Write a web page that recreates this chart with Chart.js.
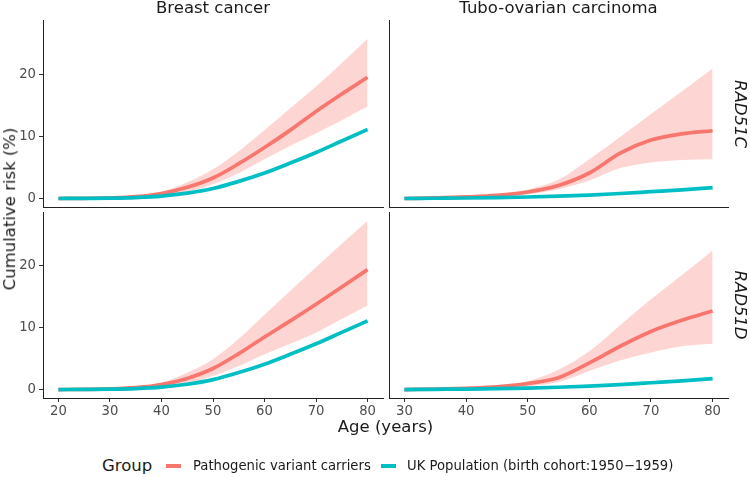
<!DOCTYPE html>
<html>
<head>
<meta charset="utf-8">
<script src="https://cdn.jsdelivr.net/npm/chart.js@4.4.1/dist/chart.umd.min.js"></script>
<style>
  body { margin: 0; background: #fff; }
  #fig { position: relative; width: 750px; height: 477px; overflow: hidden;
         font-family: 'DejaVu Sans', sans-serif; color: #1a1a1a; }
  #fig canvas { position: absolute; }
  .lbl { position: absolute; white-space: nowrap; line-height: 1.2; font-size: 16.5px;
         transform: translate(-50%, -50%); }
  .row { font-style: italic; transform: translate(-50%, -50%) rotate(90deg); }
  .ytitle { transform: translate(-50%, -50%) rotate(-90deg); }
  .leg { position: absolute; white-space: nowrap; line-height: 1.2; transform: translate(0, -50%); }
  .key { position: absolute; width: 15px; height: 4px; }
</style>
</head>
<body>
<div id="fig">
  <canvas id="tl" width="372" height="192" style="left:15px;top:18px;width:372px;height:192px"></canvas>
  <canvas id="tr" width="345" height="192" style="left:387px;top:18px;width:345px;height:192px"></canvas>
  <canvas id="bl" width="372" height="214" style="left:15px;top:210px;width:372px;height:214px"></canvas>
  <canvas id="br" width="345" height="214" style="left:387px;top:210px;width:345px;height:214px"></canvas>

  <div class="lbl" style="left:213px;top:8px">Breast cancer</div>
  <div class="lbl" style="left:558.5px;top:8px">Tubo-ovarian carcinoma</div>
  <div class="lbl row" style="left:740px;top:113.5px">RAD51C</div>
  <div class="lbl row" style="left:740px;top:305px">RAD51D</div>
  <div class="lbl ytitle" style="left:10px;top:209px">Cumulative risk (%)</div>
  <div class="lbl" style="left:385.5px;top:427px">Age (years)</div>

  <div class="leg" style="left:102px;top:466px;font-size:16.5px">Group</div>
  <div class="key" style="left:166px;top:464px;background:#F8766D"></div>
  <div class="leg" style="left:193px;top:466px;font-size:13.2px">Pathogenic variant carriers</div>
  <div class="key" style="left:381px;top:464px;background:#00BFC4"></div>
  <div class="leg" style="left:407px;top:466px;font-size:13.2px">UK Population (birth cohort:1950&minus;1959)</div>
</div>
<script>
// ages
const breastAges  = [20, 25, 30, 35, 40, 45, 50, 55, 60, 65, 70, 75, 80];
const ovarianAges = [30, 35, 40, 45, 50, 55, 60, 65, 70, 75, 80];

// tick labels
const breastTicks  = [20, 30, 40, 50, 60, 70, 80];
const ovarianTicks = [30, 40, 50, 60, 70, 80];
const riskTicks    = [0, 10, 20];

// UK population (same in both rows)
const ukBreast  = [0, 0.02, 0.05, 0.15, 0.38, 0.85, 1.6, 2.75, 4.1, 5.7, 7.4, 9.25, 11.1];
const ukOvarian = [0, 0.04, 0.08, 0.14, 0.24, 0.37, 0.55, 0.8, 1.1, 1.4, 1.75];

// RAD51C breast
const breastC    = [0, 0.03, 0.1, 0.3, 0.8, 1.8, 3.3, 5.6, 8.2, 11.0, 14.0, 16.8, 19.5];
const breastCLow = [0, 0.02, 0.08, 0.2, 0.45, 1.1, 2.3, 4.1, 6.3, 8.5, 10.5, 12.6, 14.8];
const breastCUp  = [0, 0.03, 0.12, 0.4, 1.1, 2.6, 4.7, 7.6, 11.0, 14.5, 18.0, 21.8, 25.7];

// RAD51D breast
const breastD    = [0, 0.03, 0.1, 0.3, 0.8, 1.8, 3.4, 5.8, 8.5, 11.1, 13.8, 16.6, 19.4];
const breastDLow = [0, 0.02, 0.08, 0.2, 0.45, 1.0, 2.2, 3.8, 5.7, 7.4, 9.2, 11.4, 13.6];
const breastDUp  = [0, 0.03, 0.12, 0.4, 1.1, 2.7, 4.9, 8.2, 12.1, 16.0, 19.8, 23.6, 27.3];

// RAD51C tubo-ovarian
const ovarianC    = [0, 0.1, 0.25, 0.5, 1.05, 2.1, 4.1, 7.3, 9.4, 10.4, 10.9];
const ovarianCLow = [0, 0.05, 0.12, 0.3, 0.7, 1.5, 2.9, 4.9, 5.8, 6.2, 6.3];
const ovarianCUp  = [0, 0.1, 0.3, 0.7, 1.45, 3.0, 6.3, 9.9, 13.6, 17.2, 20.9];

// RAD51D tubo-ovarian
const ovarianD    = [0, 0.06, 0.2, 0.43, 0.97, 1.9, 4.3, 7.0, 9.4, 11.2, 12.7];
const ovarianDLow = [0, 0.04, 0.1, 0.25, 0.5, 1.2, 3.0, 4.7, 6.0, 7.0, 7.4];
const ovarianDUp  = [0, 0.08, 0.25, 0.6, 1.35, 3.2, 6.2, 10.4, 14.6, 18.5, 22.5];

const RED = '#F8766D';
const TEAL = '#00BFC4';
const BAND = 'rgba(248,118,109,0.3)';
const TICK_FONT = { family: 'DejaVu Sans', size: 13.2 };

function drawPanel(id, ages, xTicks, uk, mid, low, up, xRange, showX, showY) {
  const pts = vals => vals.map((v, i) => ({ x: ages[i], y: v }));
  new Chart(document.getElementById(id), {
    type: 'line',
    data: {
      datasets: [
        { data: pts(uk), borderColor: TEAL, borderWidth: 3.7, fill: false },
        { data: pts(mid), borderColor: RED, borderWidth: 3.7, fill: false },
        { data: pts(up), borderWidth: 0, borderColor: 'rgba(0,0,0,0)', backgroundColor: BAND, fill: '+1' },
        { data: pts(low), borderWidth: 0, borderColor: 'rgba(0,0,0,0)', fill: false }
      ]
    },
    options: {
      responsive: false,
      animation: false,
      events: [],
      layout: { padding: { top: 2, right: 4, left: 0, bottom: 0 } },
      elements: {
        point: { radius: 0 },
        line: { cubicInterpolationMode: 'monotone' }
      },
      plugins: { legend: { display: false }, tooltip: { enabled: false } },
      scales: {
        x: {
          type: 'linear',
          min: xRange[0], max: xRange[1],
          afterBuildTicks: s => { s.ticks = xTicks.map(v => ({ value: v })); },
          ticks: { display: showX, color: '#4d4d4d', font: TICK_FONT, padding: 2, maxRotation: 0 },
          grid: { display: showX, drawOnChartArea: false, drawTicks: true, tickLength: 4, color: '#333' },
          border: { display: true, color: '#222', width: 1 },
          afterFit: s => { s.height = showX ? 26 : 3; s.paddingLeft = 0; s.paddingRight = 0; }
        },
        y: {
          min: -1.37, max: 28.72,
          afterBuildTicks: s => { s.ticks = riskTicks.map(v => ({ value: v })); },
          ticks: { display: showY, color: '#4d4d4d', font: TICK_FONT, padding: 3 },
          grid: { display: showY, drawOnChartArea: false, drawTicks: true, tickLength: 4, color: '#333' },
          border: { display: true, color: '#222', width: 1 },
          afterFit: s => { s.width = showY ? 28 : 2; s.paddingTop = 0; s.paddingBottom = 0; }
        }
      }
    }
  });
}

drawPanel('tl', breastAges, breastTicks, ukBreast, breastC, breastCLow, breastCUp, [17, 83], false, true);
drawPanel('tr', ovarianAges, ovarianTicks, ukOvarian, ovarianC, ovarianCLow, ovarianCUp, [27.5, 82.5], false, false);
drawPanel('bl', breastAges, breastTicks, ukBreast, breastD, breastDLow, breastDUp, [17, 83], true, true);
drawPanel('br', ovarianAges, ovarianTicks, ukOvarian, ovarianD, ovarianDLow, ovarianDUp, [27.5, 82.5], true, false);
</script>
</body>
</html>
